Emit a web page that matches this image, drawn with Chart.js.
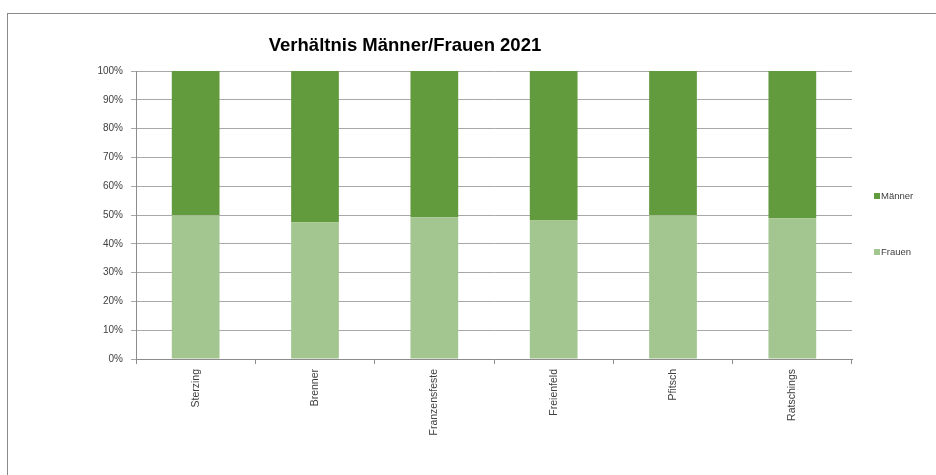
<!DOCTYPE html>
<html>
<head>
<meta charset="utf-8">
<script src="https://cdn.jsdelivr.net/npm/chart.js@4/dist/chart.umd.min.js"></script>
<style>
  html, body { margin: 0; padding: 0; background: #fff; }
  body { width: 936px; height: 475px; position: relative; overflow: hidden; font-family: "Liberation Sans", Arial, sans-serif; }
  #frame { position: absolute; left: 7px; top: 13px; width: 1000px; height: 600px; border-top: 1px solid #8a8a8a; border-left: 1px solid #8a8a8a; box-sizing: border-box; }
  #wrap { position: absolute; left: 0; top: 0; width: 936px; height: 475px; }
  .leg { position: absolute; font-size: 9.5px; color: #404040; line-height: 10px; }
  .leg span { display: inline-block; width: 6px; height: 6px; margin-right: 1px; vertical-align: 0px; }
</style>
</head>
<body>
<div id="frame"></div>
<div id="wrap"><canvas id="c" width="936" height="475"></canvas></div>
<div class="leg" style="left:874px; top:191px;"><span style="background:#629a3e"></span>Männer</div>
<div class="leg" style="left:874px; top:247px;"><span style="background:#a3c58f"></span>Frauen</div>
<script>
const categories = ["Sterzing", "Brenner", "Franzensfeste", "Freienfeld", "Pfitsch", "Ratschings"];
const frauen = [49.9, 47.5, 49.2, 48.1, 49.9, 48.9];
const maenner = [50.1, 52.5, 50.8, 51.9, 50.1, 51.1];
const yTicks = [0, 10, 20, 30, 40, 50, 60, 70, 80, 90, 100];
const titleText = "Verhältnis Männer/Frauen 2021";

const titlePlugin = {
  id: 'fixedTitle',
  afterDraw(chart) {
    const ctx = chart.ctx;
    ctx.save();
    ctx.font = 'bold 18.5px "Liberation Sans", Arial, sans-serif';
    ctx.fillStyle = '#000';
    ctx.textAlign = 'center';
    ctx.textBaseline = 'middle';
    ctx.fillText(titleText, 405, 46);
    ctx.restore();
  }
};

new Chart(document.getElementById('c'), {
  type: 'bar',
  data: {
    labels: categories,
    datasets: [
      { label: 'Frauen', data: frauen, backgroundColor: '#a3c58f', borderWidth: 0, barPercentage: 0.40, categoryPercentage: 1.0 },
      { label: 'Männer', data: maenner, backgroundColor: '#629a3e', borderWidth: 0, barPercentage: 0.40, categoryPercentage: 1.0 }
    ]
  },
  options: {
    responsive: false,
    animation: false,
    layout: { padding: { left: 0, top: 71, right: 84, bottom: 0 } },
    plugins: { legend: { display: false }, title: { display: false }, tooltip: { enabled: false } },
    scales: {
      x: {
        stacked: true,
        offset: true,
        afterFit: (s) => { s.height = 116; },
        grid: { display: true, drawOnChartArea: false, drawTicks: true, tickLength: 5, color: '#8c8c8c', offset: true },
        border: { display: true, color: '#8c8c8c', width: 1 },
        ticks: { minRotation: 90, maxRotation: 90, autoSkip: false, padding: 5, color: '#404040', font: { family: '"Liberation Sans", Arial, sans-serif', size: 10.5 } }
      },
      y: {
        stacked: true,
        min: 0, max: 100,
        afterFit: (s) => { s.width = 136; },
        afterBuildTicks: (s) => { s.ticks = yTicks.map(v => ({ value: v })); },
        grid: { color: '#a8a8a8', lineWidth: 1, tickLength: 5, drawTicks: true },
        border: { display: true, color: '#8c8c8c', width: 1 },
        ticks: { padding: 8, color: '#404040', font: { family: '"Liberation Sans", Arial, sans-serif', size: 10 }, callback: (v) => v + '%' }
      }
    }
  },
  plugins: [titlePlugin]
});
</script>
</body>
</html>
